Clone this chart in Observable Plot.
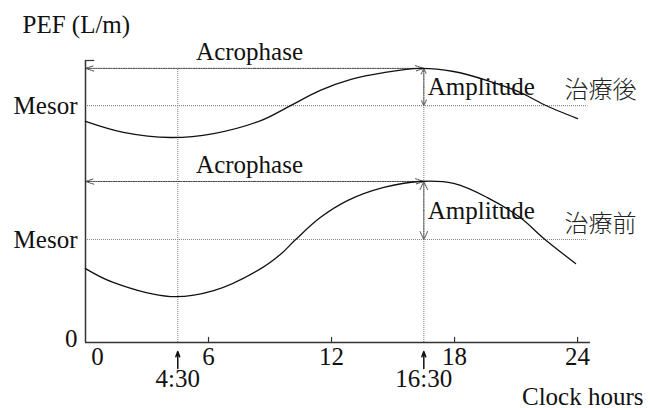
<!DOCTYPE html>
<html>
<head>
<meta charset="utf-8">
<script src="https://cdn.jsdelivr.net/npm/d3@7"></script>
<script src="https://cdn.jsdelivr.net/npm/@observablehq/plot@0.6"></script>
<style>
  html, body { margin: 0; padding: 0; background: #fff; }
</style>
</head>
<body>
<div id="chart"></div>
<script>
// ---- data ----
const afterHours = [0, 1.85, 4.15, 6.25, 8.55, 10, 11.45, 12.95, 14.55, 16.3, 17.95, 19.6, 21.2, 22.35, 24];
const afterPEF   = [78.4, 74.5, 72.7, 74.1, 78.7, 84.0, 89.4, 93.3, 95.7, 97.2, 96.1, 92.9, 88.7, 84.4, 79.4];
const beforeHours = [0, 1.35, 4.15, 6.25, 8.55, 9.5, 10.25, 11.45, 12.8, 14.55, 16.3, 17.95, 19.6, 21.2, 22.35, 23.9];
const beforePEF   = [26.2, 21.3, 16.3, 18.4, 26.2, 31.2, 36.5, 44.3, 50.4, 55.0, 57.1, 56.4, 51.4, 44.3, 36.9, 28.0];

const seriesNames = ["治療後", "治療前"];
const mesorValues = [84.0, 36.5];
const acrophaseValues = [97.2, 57.1];
const acrophaseHour = 16.5;
const phaseHours = [4.5, 16.5];
const phaseLabels = ["4:30", "16:30"];
const xTicks = [6, 12, 18, 24];
const xZeroTick = [0];
const yZeroTick = [0];

// ---- derived tables ----
const after = afterHours.map((h, i) => ({h, v: afterPEF[i]}));
const before = beforeHours.map((h, i) => ({h, v: beforePEF[i]}));
const levels = seriesNames.map((name, i) => ({
  name, mesor: mesorValues[i], acro: acrophaseValues[i],
  mid: (mesorValues[i] + acrophaseValues[i]) / 2
}));
const phases = phaseHours.map((h, i) => ({h, label: phaseLabels[i]}));

const serif = "Liberation Serif, Times New Roman, serif";
const cjk = "Noto Sans CJK JP, Noto Sans CJK SC, sans-serif";
const FS = 25;
const T = {fontSize: FS, fill: "#111", lineAnchor: "middle"};
const dotted = {stroke: "#888", strokeWidth: 1.1, strokeDasharray: "1,1"};
const dottedDark = {stroke: "#444", strokeWidth: 1, strokeDasharray: "1.5,1"};

const chart = Plot.plot({
  width: 650,
  height: 408,
  marginLeft: 85,
  marginRight: 60,
  marginTop: 60,
  marginBottom: 66,
  style: {fontFamily: serif, background: "#fff", color: "#111", overflow: "visible"},
  x: {domain: [0, 24.63], axis: null},
  y: {domain: [0, 100], axis: null},
  marks: [
    // mesor lines
    Plot.ruleY(levels, {y: "mesor", x1: 0, x2: 24.5, ...dotted}),
    // vertical phase lines
    Plot.ruleX(phaseHours, {x: d => d, y1: 0, y2: acrophaseValues[0], ...dotted}),
    // acrophase double arrows (drawn outward from the middle)
    Plot.arrow(levels, {x1: acrophaseHour / 2, x2: 0, y1: "acro", y2: "acro", headAngle: 36, headLength: 13, ...dottedDark}),
    Plot.arrow(levels, {x1: acrophaseHour / 2, x2: acrophaseHour, y1: "acro", y2: "acro", headAngle: 36, headLength: 13, ...dottedDark}),
    // amplitude double arrows
    Plot.arrow(levels, {x1: acrophaseHour, x2: acrophaseHour, y1: "mid", y2: "acro", headAngle: 50, headLength: 12, stroke: "#666", strokeWidth: 1.1, strokeDasharray: "1.5,1"}),
    Plot.arrow(levels, {x1: acrophaseHour, x2: acrophaseHour, y1: "mid", y2: "mesor", headAngle: 50, headLength: 12, stroke: "#666", strokeWidth: 1.1, strokeDasharray: "1.5,1"}),
    // axes
    Plot.ruleX(xZeroTick, {x: d => d, stroke: "#333", strokeWidth: 1.5}),
    Plot.ruleY(yZeroTick, {y: d => d, stroke: "#333", strokeWidth: 1.5}),
    Plot.ruleY([100], {y: d => d, x1: 0, x2: 0.45, stroke: "#333", strokeWidth: 1.2}),
    Plot.ruleX(xTicks, {x: d => d, y1: 0, y2: 1.8, stroke: "#333", strokeWidth: 1.2}),
    // curves
    Plot.line(after, {x: "h", y: "v", curve: "catmull-rom", stroke: "#111", strokeWidth: 1.3}),
    Plot.line(before, {x: "h", y: "v", curve: "catmull-rom", stroke: "#111", strokeWidth: 1.3}),
    // text labels
    Plot.text(levels, {x: acrophaseHour / 2 - 0.25, y: "acro", text: () => "Acrophase", dy: -16, ...T}),
    Plot.text(levels, {x: acrophaseHour, y: "mid", text: () => "Amplitude", dx: 4, textAnchor: "start", ...T}),
    Plot.text(levels, {y: "mesor", frameAnchor: "right", text: "name", dx: 46, dy: -15, textAnchor: "end", ...T, fontSize: FS - 1, fontFamily: cjk, fontWeight: 300, fill: "#222"}),
    Plot.text(levels, {y: "mesor", frameAnchor: "left", text: () => "Mesor", dx: -8, textAnchor: "end", ...T}),
    Plot.text(yZeroTick, {y: d => d, frameAnchor: "left", text: d => String(d), dx: -8, dy: -4, textAnchor: "end", ...T}),
    Plot.text(["PEF (L/m)"], {frameAnchor: "top-left", dx: -63, dy: -36, textAnchor: "start", ...T}),
    Plot.text(xTicks, {x: d => d, frameAnchor: "bottom", text: d => String(d), dy: 14, ...T}),
    Plot.text(xZeroTick, {x: d => d, frameAnchor: "bottom", text: d => String(d), dx: 12, dy: 14, ...T}),
    Plot.text(phases, {x: "h", frameAnchor: "bottom", text: "label", dy: 36, ...T}),
    // small up-arrows under the axis pointing at 4:30 and 16:30
    Plot.arrow(phases, {x: "h", y1: -9.2, y2: -3.2, headAngle: 40, headLength: 9, stroke: "#111", strokeWidth: 1.5}),
    Plot.text(["Clock hours"], {frameAnchor: "bottom-right", dx: 53, dy: 54, textAnchor: "end", ...T})
  ]
});
document.getElementById("chart").appendChild(chart);
</script>
</body>
</html>
